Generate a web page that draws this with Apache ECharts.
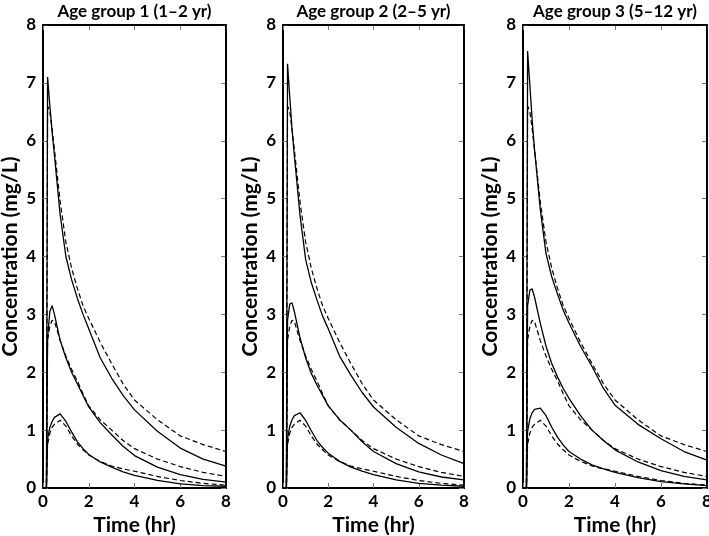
<!DOCTYPE html>
<html>
<head>
<meta charset="utf-8">
<script src="https://cdn.jsdelivr.net/npm/echarts@6/dist/echarts.min.js"></script>
<style>html,body{margin:0;padding:0;background:#fff}#c{width:709px;height:536px}</style>
</head>
<body>
<div id="c"></div>
<script>
const times = [0, 0.15, 0.2, 0.3, 0.4, 0.5, 0.75, 1, 1.25, 1.5, 1.75, 2, 2.5, 3, 3.5, 4, 5, 6, 7, 8];

// dashed reference curves (same in every panel)
const refUpper  = [0,0,6.6,6.5,6.2,5.85,4.95,4.25,3.8,3.45,3.15,2.93,2.52,2.15,1.8,1.52,1.18,0.90,0.75,0.63];
const refMiddle = [0,0,2.55,2.8,2.9,2.88,2.55,2.28,2.05,1.85,1.63,1.42,1.18,1.0,0.82,0.68,0.5,0.37,0.27,0.2];
const refLower  = [0,0,0.75,0.95,1.05,1.1,1.17,1.07,0.9,0.76,0.66,0.57,0.46,0.38,0.33,0.29,0.2,0.13,0.08,0.05];

// solid curves per age group
const g1Upper  = [0,0,7.1,6.6,6.15,5.75,4.72,4.0,3.6,3.28,3.0,2.75,2.25,1.9,1.6,1.35,0.98,0.69,0.5,0.38];
const g1Middle = [0,0,2.6,3.05,3.15,3.0,2.55,2.25,2.0,1.8,1.6,1.4,1.13,0.92,0.72,0.56,0.36,0.23,0.15,0.1];
const g1Lower  = [0,0,0.85,1.05,1.15,1.22,1.28,1.15,0.97,0.8,0.68,0.58,0.45,0.36,0.28,0.22,0.13,0.07,0.04,0.03];

const g2Upper  = [0,0,7.33,6.75,6.2,5.75,4.72,3.95,3.55,3.25,2.97,2.75,2.28,1.95,1.65,1.4,1.05,0.77,0.57,0.42];
const g2Middle = [0,0,2.9,3.18,3.2,3.05,2.6,2.25,1.98,1.78,1.6,1.42,1.18,1.0,0.8,0.63,0.42,0.28,0.19,0.14];
const g2Lower  = [0,0,0.85,1.07,1.18,1.25,1.3,1.17,0.99,0.82,0.7,0.6,0.46,0.36,0.29,0.23,0.14,0.08,0.05,0.03];

const g3Upper  = [0,0,7.55,6.95,6.35,5.85,4.82,4.05,3.65,3.35,3.07,2.85,2.45,2.1,1.72,1.43,1.1,0.85,0.63,0.48];
const g3Middle = [0,0,3.15,3.42,3.44,3.3,2.85,2.45,2.15,1.92,1.72,1.55,1.25,1.0,0.82,0.66,0.45,0.3,0.2,0.14];
const g3Lower  = [0,0,0.98,1.2,1.3,1.36,1.38,1.25,1.05,0.88,0.74,0.63,0.5,0.4,0.33,0.27,0.18,0.11,0.07,0.04];

const panelTitles = ['Age group 1 (1\u20132 yr)', 'Age group 2 (2\u20135 yr)', 'Age group 3 (5\u201312 yr)'];
const solids = [[g1Upper, g1Middle, g1Lower], [g2Upper, g2Middle, g2Lower], [g3Upper, g3Middle, g3Lower]];
const dashed = [refUpper, refMiddle, refLower];

const xTitle = 'Time (hr)';
const yTitle = 'Concentration (mg/L)';
const axisMax = 8;

const FONT = 'Lato';
const gridBoxes = [
  {left: 43, width: 183, top: 25, height: 463},
  {left: 283, width: 181, top: 25, height: 463},
  {left: 523, width: 184, top: 25, height: 463}
];

const tick = () => ({show: true, inside: true, length: 5, lineStyle: {color: '#777', width: 1}});
const grids = [], xAxes = [], yAxes = [], series = [];
gridBoxes.forEach((g, i) => {
  grids.push({left: g.left, width: g.width, top: g.top, height: g.height, outerBoundsMode: 'none'});
  xAxes.push({
    gridIndex: i, type: 'value', min: 0, max: axisMax, interval: 2, position: 'bottom',
    axisLine: {show: true, onZero: false, lineStyle: {color: '#000', width: 2}},
    axisTick: tick(),
    axisLabel: {color: '#000', fontFamily: FONT, fontWeight: 'bold', fontSize: 17, margin: 5},
    splitLine: {show: false},
    name: xTitle, nameLocation: 'middle', nameGap: 27,
    nameTextStyle: {color: '#000', fontFamily: FONT, fontWeight: 'bold', fontSize: 21}
  });
  xAxes.push({
    gridIndex: i, type: 'value', min: 0, max: axisMax, interval: 2, position: 'top',
    axisLine: {show: true, onZero: false, lineStyle: {color: '#000', width: 2}},
    axisTick: tick(), axisLabel: {show: false}, splitLine: {show: false},
    name: panelTitles[i], nameLocation: 'middle', nameGap: 5,
    nameTextStyle: {color: '#000', fontFamily: FONT, fontWeight: 'bold', fontSize: 17}
  });
  yAxes.push({
    gridIndex: i, type: 'value', min: 0, max: axisMax, interval: 1, position: 'left',
    axisLine: {show: true, onZero: false, lineStyle: {color: '#000', width: 2}},
    axisTick: tick(),
    axisLabel: {color: '#000', fontFamily: FONT, fontWeight: 'bold', fontSize: 17, margin: 7},
    splitLine: {show: false},
    name: yTitle, nameLocation: 'middle', nameGap: 22, nameRotate: 90,
    nameTextStyle: {color: '#000', fontFamily: FONT, fontWeight: 'bold', fontSize: 21}
  });
  yAxes.push({
    gridIndex: i, type: 'value', min: 0, max: axisMax, interval: 1, position: 'right',
    axisLine: {show: true, onZero: false, lineStyle: {color: '#000', width: 2}},
    axisTick: tick(), axisLabel: {show: false}, splitLine: {show: false}
  });
  solids[i].forEach((arr, j) => {
    const s = {
      type: 'line', xAxisIndex: 2 * i, yAxisIndex: 2 * i, showSymbol: false, clip: false,
      data: times.map((t, k) => [t, arr[k]]),
      lineStyle: {color: '#000', width: 1.3, type: 'solid'}
    };
    if (j === 0) {
      // top and right frame of the panel, placed through the axis scales
      s.markLine = {
        silent: true, symbol: ['none', 'none'], label: {show: false}, animation: false,
        lineStyle: {color: '#000', width: 1.5, type: 'solid'},
        emphasis: {disabled: true},
        data: [{xAxis: axisMax}, {yAxis: axisMax}]
      };
    }
    series.push(s);
  });
  // dashed curves use the top/right axes (same 0-8 scales)
  dashed.forEach(arr => {
    series.push({
      type: 'line', xAxisIndex: 2 * i + 1, yAxisIndex: 2 * i + 1, showSymbol: false, clip: false,
      data: times.map((t, k) => [t, arr[k]]),
      lineStyle: {color: '#000', width: 1.2, type: [5, 3]}
    });
  });
});

const chart = echarts.init(document.getElementById('c'));
chart.setOption({
  animation: false,
  grid: grids,
  xAxis: xAxes,
  yAxis: yAxes,
  series: series
});
</script>
</body>
</html>
